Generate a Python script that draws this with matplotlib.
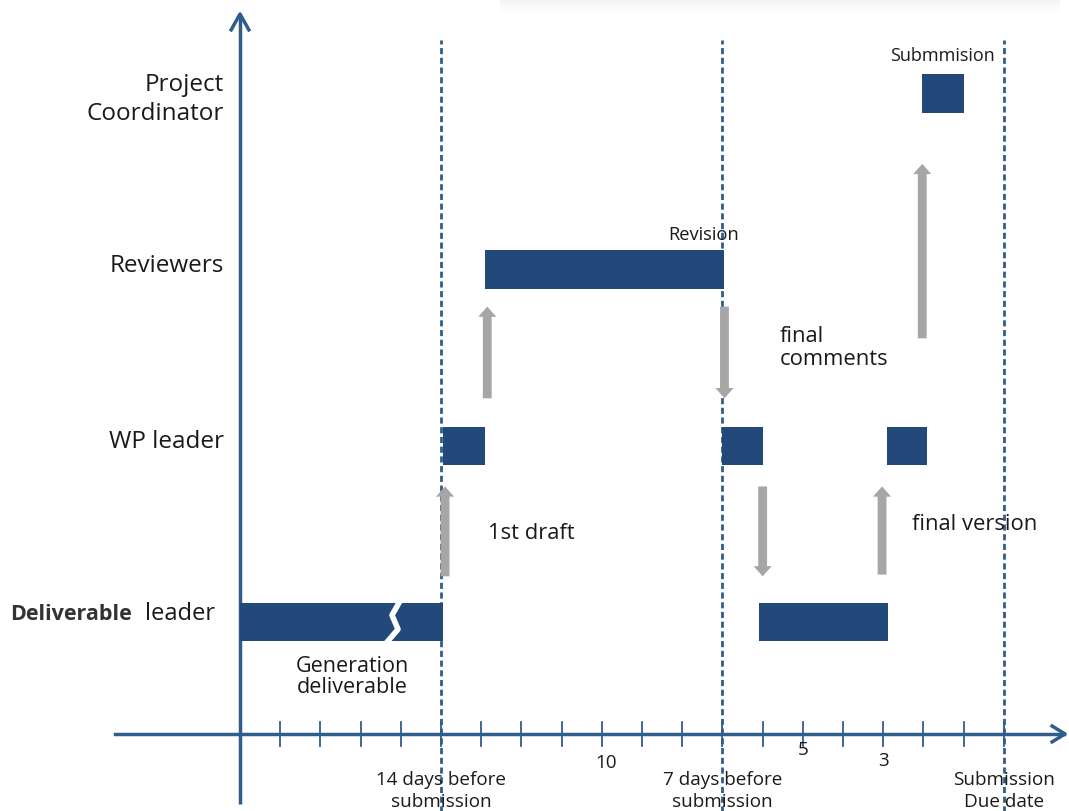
import numpy as np
import matplotlib.pyplot as plt

# ---- data
roles = ['Deliverable leader', 'WP leader', 'Reviewers', 'Project\nCoordinator']
role_y = [1, 2, 3, 4]

bar_role = [0, 1, 2, 1, 0, 1, 3]
bar_start = [0, 5.05, 6.1, 12.0, 12.9, 16.1, 16.97]
bar_end = [5.05, 6.1, 12.05, 13.0, 16.12, 17.1, 18.0]

arrow_x = [5.1, 6.15, 12.05, 13.0, 15.97, 16.97]
arrow_from = [1.26, 2.27, 2.79, 1.77, 1.27, 2.61]
arrow_to = [1.77, 2.79, 2.27, 1.26, 1.77, 3.60]

milestones = [5, 12, 19]
n_days = 19
tick_labels = {5: '14 days before\nsubmission', 9.1: '10', 12: '7 days before\nsubmission',
               14: '5', 16: '3', 19: 'Submission\nDue date'}

navy = '#22497a'
axcol = '#2f5d8e'
grey = '#a6a6a6'
tcol = '#1a1a1a'
plt.rcParams['font.family'] = ['Open Sans', 'DejaVu Sans']

fig = plt.figure(figsize=(10.69, 8.12), dpi=100)
ax = fig.add_axes([0, 0, 1, 1])
ax.set_xlim(-5.97, 20.62)
ax.set_ylim(-0.071, 4.535)
ax.axis('off')

# faint shadow strip top right
grad = np.linspace(0.95, 1.0, 20).reshape(-1, 1)
sh = fig.add_axes([500/1069, 1-14/812, 560/1069, 14/812])
sh.imshow(grad, cmap='gray', vmin=0, vmax=1, aspect='auto', extent=[0, 1, 0, 1])
sh.axis('off')

x0 = 0.366  # y of time axis
# axes
ax.plot([0, 0], [-0.03, 4.44], color=axcol, lw=2.5, solid_capstyle='butt')
ax.plot([-0.22, 0, 0.22], [4.36, 4.45, 4.36], color=axcol, lw=2.5)
ax.plot([-3.1, 20.5], [x0, x0], color=axcol, lw=2.5)
ax.plot([20.2, 20.52, 20.2], [x0+0.045, x0, x0-0.045], color=axcol, lw=2.5)
for d in range(n_days + 1):
    ax.plot([d, d], [x0-0.068, x0+0.068], color=axcol, lw=1.3)

for m in milestones:
    ax.plot([m, m], [-0.1, 4.30], color=axcol, lw=2, ls=(0, (2.2, 1.3)))

# bars
for r, s, e in zip(bar_role, bar_start, bar_end):
    ax.barh(role_y[r], e - s, left=s, height=0.218, color=navy, zorder=3)

# break mark on first bar
bx = 3.73
yb = role_y[0]
ax.plot([bx+0.25, bx+0.05, bx+0.2, bx-0.1], [yb+0.12, yb+0.04, yb-0.04, yb-0.12],
        color='white', lw=4, zorder=4, solid_capstyle='butt')

# arrows
for x, a, b in zip(arrow_x, arrow_from, arrow_to):
    ax.arrow(x, a, 0, b - a, width=0.22, head_width=0.45, head_length=0.058,
             length_includes_head=True, color=grey, lw=0, zorder=2)

# role labels
for i, (name, y) in enumerate(zip(roles, role_y)):
    if i == 0:
        ax.text(-2.36, y + 0.05, 'leader', ha='left', va='center', fontsize=17, color=tcol)
        ax.text(-5.72, y + 0.05, 'Deliverable', ha='left', va='center', fontsize=15.5,
                fontweight='bold', color='#333333')
    elif '\n' in name:
        ax.text(-0.4, y - 0.03, name, ha='right', va='center', fontsize=17.5, color=tcol,
                linespacing=1.28)
    else:
        ax.text(-0.4, y + 0.025, name, ha='right', va='center', fontsize=17.5, color=tcol)

# annotations
ax.text(2.8, 0.695, 'Generation\ndeliverable', ha='center', va='center', fontsize=15.5,
        color=tcol, linespacing=1.0)
ax.text(6.17, 1.51, '1st draft', ha='left', va='center', fontsize=15.8, color=tcol)
ax.text(13.43, 2.56, 'final\ncomments', ha='left', va='center', fontsize=15.8, color=tcol,
        linespacing=1.12)
ax.text(16.72, 1.56, 'final version', ha='left', va='center', fontsize=15.8, color=tcol)
ax.text(11.52, 3.20, 'Revision', ha='center', va='center', fontsize=13.2, color=tcol)
ax.text(17.46, 4.22, 'Submmision', ha='center', va='center', fontsize=13, color=tcol)

for d, lab in tick_labels.items():
    yy = 0.162 if '\n' in lab else {9.1: 0.205, 14: 0.28, 16: 0.22}[d]
    ax.text(d, yy, lab, ha='center', va='top' if '\n' in lab else 'center',
            fontsize=13.6, color=tcol, linespacing=1.3)

plt.savefig('out.png', dpi=100)
